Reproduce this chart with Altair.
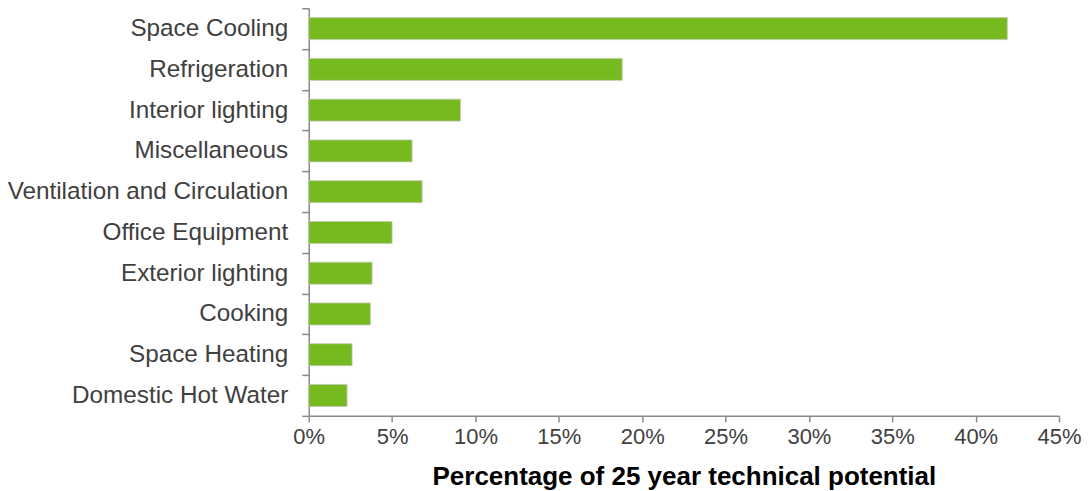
import altair as alt
import pandas as pd

categories = [
    "Space Cooling",
    "Refrigeration",
    "Interior lighting",
    "Miscellaneous",
    "Ventilation and Circulation",
    "Office Equipment",
    "Exterior lighting",
    "Cooking",
    "Space Heating",
    "Domestic Hot Water",
]
percent_values = [41.9, 18.8, 9.1, 6.2, 6.8, 5.0, 3.8, 3.7, 2.6, 2.3]
tick_values = [0, 0.05, 0.10, 0.15, 0.20, 0.25, 0.30, 0.35, 0.40, 0.45]

df = pd.DataFrame({"category": categories, "share": [v / 100 for v in percent_values]})

FONT = "Liberation Sans"
GREEN = "#77BA20"
AXIS_GRAY = "#8A8A8A"

chart = (
    alt.Chart(df)
    .mark_bar(size=22, color=GREEN, stroke="#BFC9B4", strokeWidth=0.8)
    .encode(
        x=alt.X(
            "share:Q",
            scale=alt.Scale(domain=[0, 0.45], nice=False),
            axis=alt.Axis(
                title="Percentage of 25 year technical potential",
                values=tick_values,
                format=".0%",
                grid=False,
                domainColor=AXIS_GRAY,
                domainWidth=1.5,
                tickColor=AXIS_GRAY,
                tickWidth=1.5,
                tickSize=6,
                labelFont=FONT,
                labelFontSize=22,
                labelColor="#404040",
                labelPadding=5,
                labelFlush=False,
                titleFont=FONT,
                titleFontSize=26,
                titleFontWeight="bold",
                titleColor="#000000",
                titlePadding=16,
            ),
        ),
        y=alt.Y(
            "category:N",
            sort=categories,
            scale=alt.Scale(paddingInner=0, paddingOuter=0),
            axis=alt.Axis(
                title=None,
                tickBand="extent",
                domainColor=AXIS_GRAY,
                domainWidth=1.5,
                tickColor=AXIS_GRAY,
                tickWidth=1.5,
                tickSize=7,
                labelFont=FONT,
                labelFontSize=24.3,
                labelColor="#404040",
                labelPadding=14,
                labelLimit=400,
            ),
        ),
    )
    .properties(
        width=751,
        height=408,
        autosize=alt.AutoSizeParams(type="none"),
        padding={"left": 301, "top": 0, "right": 24, "bottom": 80},
    )
    .configure_view(stroke=None)
)

chart.save("out.html", embed_options={"renderer": "svg", "actions": False})
